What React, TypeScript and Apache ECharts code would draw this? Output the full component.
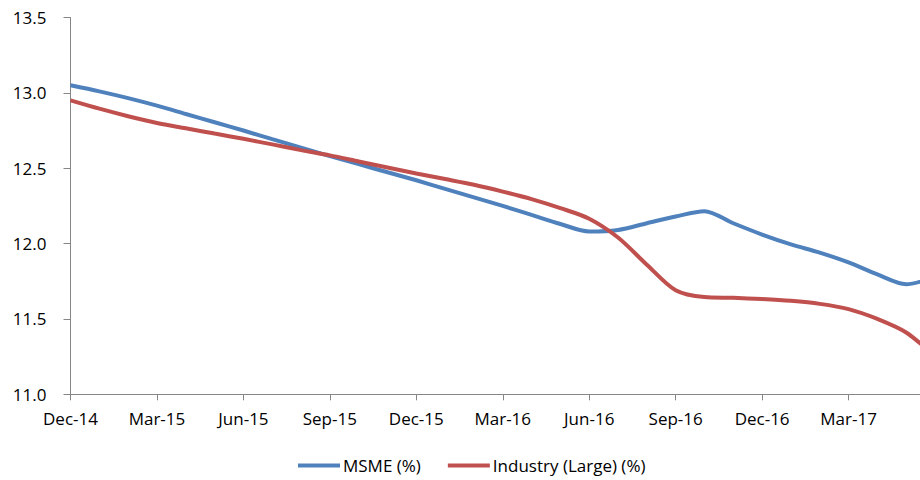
import React, { useEffect, useRef } from "react";
import * as echarts from "echarts";

const months = [
  "Dec-14", "Jan-15", "Feb-15", "Mar-15", "Apr-15", "May-15", "Jun-15", "Jul-15", "Aug-15",
  "Sep-15", "Oct-15", "Nov-15", "Dec-15", "Jan-16", "Feb-16", "Mar-16", "Apr-16", "May-16",
  "Jun-16", "Jul-16", "Aug-16", "Sep-16", "Oct-16", "Nov-16", "Dec-16", "Jan-17", "Feb-17",
  "Mar-17", "Apr-17", "May-17", "Jun-17",
];

const msme = [
  13.05, 13.01, 12.965, 12.915, 12.86, 12.805, 12.75, 12.693, 12.637, 12.58, 12.527, 12.473,
  12.42, 12.363, 12.307, 12.25, 12.19, 12.13, 12.08, 12.09, 12.135, 12.18, 12.215, 12.135,
  12.06, 11.995, 11.94, 11.875, 11.795, 11.73, 11.78,
];

const industryLarge = [
  12.95, 12.895, 12.845, 12.8, 12.765, 12.73, 12.695, 12.658, 12.62, 12.585, 12.545, 12.505,
  12.465, 12.428, 12.39, 12.345, 12.295, 12.235, 12.165, 12.04, 11.86, 11.69, 11.645, 11.64,
  11.632, 11.62, 11.6, 11.565, 11.5, 11.41, 11.25,
];

const seriesNames = ["MSME (%)", "Industry (Large) (%)"];

const FONT = "'Open Sans', sans-serif";

export default function App() {
  const ref = useRef<HTMLDivElement>(null);

  useEffect(() => {
    document.body.style.margin = "0";
    document.body.style.overflow = "hidden";
    document.documentElement.style.overflow = "hidden";
    if (!ref.current) return;
    const chart = echarts.init(ref.current, null, { renderer: "svg" });
    const lastIdx = months.length - 1;
    chart.setOption({
      animation: false,
      backgroundColor: "#ffffff",
      textStyle: { fontFamily: FONT },
      grid: { left: 70.5, right: 0, top: 17.5, bottom: 85.7, containLabel: false },
      legend: {
        left: 293,
        top: 452,
        icon: "rect",
        itemWidth: 42,
        itemHeight: 4,
        itemGap: 27,
        textStyle: { fontFamily: FONT, fontSize: 17, color: "#000", padding: [0, 0, 0, -2] },
        data: seriesNames,
      },
      xAxis: {
        type: "category",
        data: months,
        boundaryGap: false,
        axisLine: { lineStyle: { color: "#868686", width: 1 } },
        axisTick: {
          alignWithLabel: true,
          interval: (i: number) => i % 3 === 0,
          length: 6,
          lineStyle: { color: "#868686" },
        },
        axisLabel: {
          interval: (i: number) => i % 3 === 0 && i !== lastIdx,
          margin: 16,
          fontFamily: FONT,
          fontSize: 17,
          color: "#000",
        },
        splitLine: { show: false },
      },
      yAxis: {
        type: "value",
        min: 11,
        max: 13.5,
        interval: 0.5,
        axisLine: { show: true, lineStyle: { color: "#868686", width: 1 } },
        axisTick: { show: true, length: 7, lineStyle: { color: "#868686" } },
        axisLabel: {
          margin: 24,
          fontFamily: FONT,
          fontSize: 17,
          color: "#000",
          formatter: (v: number) => v.toFixed(1),
        },
        splitLine: { show: false },
      },
      series: [
        {
          name: seriesNames[0],
          type: "line",
          data: msme,
          smooth: 0.3,
          showSymbol: false,
          symbol: "none",
          lineStyle: { color: "#4F81BD", width: 4 },
          itemStyle: { color: "#4F81BD" },
        },
        {
          name: seriesNames[1],
          type: "line",
          data: industryLarge,
          smooth: 0.3,
          showSymbol: false,
          symbol: "none",
          lineStyle: { color: "#C0504D", width: 4 },
          itemStyle: { color: "#C0504D" },
        },
      ],
    });
    return () => chart.dispose();
  }, []);

  return <div ref={ref} style={{ width: 935, height: 480 }} />;
}
